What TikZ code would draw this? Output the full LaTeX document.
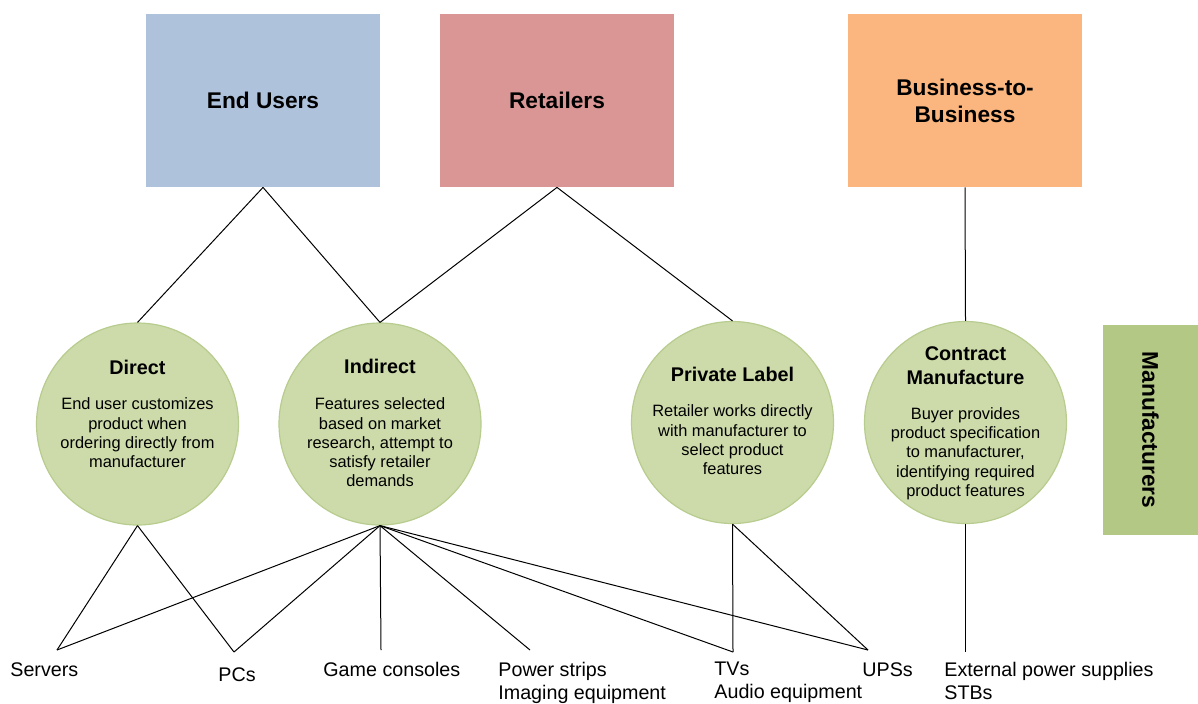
\documentclass[tikz,border=0pt]{standalone}
\usepackage{fontspec}
\setmainfont{Liberation Sans}
\definecolor{enduser}{RGB}{175,194,220}
\definecolor{retail}{RGB}{218,150,148}
\definecolor{btob}{RGB}{250,182,126}
\definecolor{chanfill}{RGB}{205,219,170}
\definecolor{chanedge}{RGB}{183,204,142}
\definecolor{mfr}{RGB}{180,200,134}
\begin{document}
\begin{tikzpicture}[x=0.5pt,y=-0.5pt,
  segment/.style={rectangle, inner sep=0pt, minimum width=117pt, minimum height=86.5pt,
    align=center, font=\fontsize{11.35}{13.5}\selectfont\bfseries},
  channel/.style={circle, fill=chanfill, draw=chanedge, line width=0.6pt,
    minimum size=101pt, inner sep=0pt},
  ctitle/.style={align=center, inner sep=0pt, font=\fontsize{9.9}{12}\selectfont\bfseries},
  cbody/.style={align=center, inner sep=0pt, font=\fontsize{8.2}{9.65}\selectfont},
  product/.style={align=left, anchor=north west, inner sep=0pt,
    font=\fontsize{9.85}{11.5}\selectfont},
  link/.style={draw=black, line width=0.5pt}]
\useasboundingbox (0,0) rectangle (1198,703);

% market segments
\node[segment, fill=enduser] (endusers) at (263,100.5) {End Users};
\node[segment, fill=retail] (retailers) at (557,100.5) {Retailers};
\node[segment, fill=btob] (b2b) at (965,100.5) {Business-to-\\Business};

% manufacturers tag on the right
\node[rectangle, fill=mfr, rotate=-90, inner sep=0pt, minimum width=105pt,
  minimum height=47.5pt, font=\fontsize{11.35}{13.5}\selectfont\bfseries]
  (mfrs) at (1150.5,430) {Manufacturers};

% sales channels
\node[channel] (direct) at (137.5,424) {};
\node[channel] (indirect) at (380,424) {};
\node[channel] (private) at (732.5,422.5) {};
\node[channel] (contract) at (965.5,422.5) {};

\node[ctitle] (directT) at (137.5,367) {Direct};
\node[cbody] (directB) at (137.5,433) {End user customizes\\product when\\ordering directly from\\manufacturer};
\node[ctitle] (indirectT) at (380,366) {Indirect};
\node[cbody] (indirectB) at (380,442.5) {Features selected\\based on market\\research, attempt to\\satisfy retailer\\demands};
\node[ctitle] (privateT) at (732.5,374) {Private Label};
\node[cbody] (privateB) at (732.5,440) {Retailer works directly\\with manufacturer to\\select product\\features};
\node[ctitle] (contractT) at (965.5,366) {Contract\\Manufacture};
\node[cbody] (contractB) at (965.5,453.5) {Buyer provides\\product specification\\to manufacturer,\\identifying required\\product features};

% product groups
\node[product] (servers) at (10,662) {Servers};
\node[product] (pcs) at (218,667) {PCs};
\node[product] (consoles) at (323,662) {Game consoles};
\node[product] (power) at (498,662) {Power strips\\Imaging equipment};
\node[product] (tvs) at (714,662) {TVs\\Audio equipment};
\node[product] (ups) at (862,662) {UPSs};
\node[product] (eps) at (944,662) {External power supplies\\STBs};

\coordinate (serversP) at (57,650);
\coordinate (pcsP) at (234,652);
\coordinate (consolesP) at (381,650);
\coordinate (powerP) at (530,650);
\coordinate (tvsP) at (733,652);
\coordinate (upsP) at (868,650);
\coordinate (epsP) at (965.5,652);

% segment to channel links
\draw[link] (endusers.south) -- (direct.north);
\draw[link] (endusers.south) -- (indirect.north);
\draw[link] (retailers.south) -- (indirect.north);
\draw[link] (retailers.south) -- (private.north);
\draw[link] (b2b.south) -- (contract.north);

% channel to product links
\draw[link] (direct.south) -- (serversP);
\draw[link] (direct.south) -- (pcsP);
\draw[link] (indirect.south) -- (serversP);
\draw[link] (indirect.south) -- (pcsP);
\draw[link] (indirect.south) -- (consolesP);
\draw[link] (indirect.south) -- (powerP);
\draw[link] (indirect.south) -- (tvsP);
\draw[link] (indirect.south) -- (upsP);
\draw[link] (private.south) -- (tvsP);
\draw[link] (private.south) -- (upsP);
\draw[link] (contract.south) -- (epsP);
\end{tikzpicture}
\end{document}
